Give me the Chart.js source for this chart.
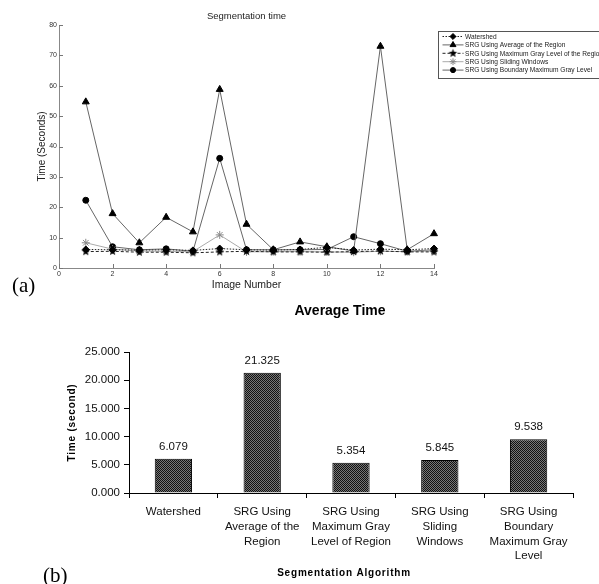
<!DOCTYPE html>
<html><head><meta charset="utf-8">
<script src="https://cdn.jsdelivr.net/npm/chart.js@4/dist/chart.umd.min.js"></script>
<style>
html,body{margin:0;padding:0;background:#fff;width:599px;height:584px;overflow:hidden;}
#wrapA{position:absolute;left:0;top:0;width:599px;height:300px;}
#wrapB{position:absolute;left:0;top:295px;width:599px;height:289px;}
.lab{position:absolute;font-family:"Liberation Serif","Times New Roman",serif;font-size:21px;color:#000;line-height:1;}
</style></head><body>
<div id="wrapA"><canvas id="a"></canvas></div>
<div id="wrapB"><canvas id="b"></canvas></div>
<div class="lab" style="left:12px;top:275px">(a)</div>
<div class="lab" style="left:43px;top:565px">(b)</div>
<script>
// ---------- data: (a) Segmentation time ----------
const imageNumbers = [1,2,3,4,5,6,7,8,9,10,11,12,13,14];
const seriesNames = [
  "Watershed",
  "SRG Using Average of the Region",
  "SRG Using Maximum Gray Level of the Region",
  "SRG Using Sliding Windows",
  "SRG Using Boundary Maximum Gray Level"
];
const watershed   = [6.1,6.0,5.9,6.0,5.8,6.4,6.0,5.9,6.1,6.8,5.9,6.2,6.0,6.4];
const srgAverage  = [54.7,17.9,8.3,16.7,11.9,58.8,14.4,6.0,8.6,7.0,5.6,73.0,6.0,11.3];
const srgMaxGray  = [5.4,5.5,5.2,5.2,5.0,5.3,5.5,5.3,5.3,5.2,5.4,5.6,5.3,5.3];
const srgSliding  = [8.3,6.2,5.6,5.5,5.4,10.9,5.3,5.4,5.4,5.3,5.2,5.5,5.4,5.6];
const srgBoundary = [22.3,7.0,6.0,6.3,5.5,36.1,6.0,6.0,6.0,6.1,10.3,8.0,5.5,6.0];
const xTickStep = 2, xMax = 14, yTickStep = 10, yMax = 80;

// ---------- data: (b) Average Time ----------
const algorithms = [
  ["Watershed"],
  ["SRG Using","Average of the","Region"],
  ["SRG Using","Maximum Gray","Level of Region"],
  ["SRG Using","Sliding","Windows"],
  ["SRG Using","Boundary","Maximum Gray","Level"]
];
const averageTimes = [6.079, 21.325, 5.354, 5.845, 9.538];
const barYMax = 25, barYStep = 5;

const SANS = '"Liberation Sans", Arial, sans-serif';

// five-point star marker
function starCanvas(r, color){
  const c = document.createElement('canvas');
  const s = Math.ceil(r*2+2); c.width = s; c.height = s;
  const g = c.getContext('2d'); g.fillStyle = color; g.beginPath();
  for(let i=0;i<10;i++){
    const ang = -Math.PI/2 + i*Math.PI/5;
    const rr = i%2===0 ? r : r*0.42;
    const x = s/2 + rr*Math.cos(ang), y = s/2 + rr*Math.sin(ang);
    i===0 ? g.moveTo(x,y) : g.lineTo(x,y);
  }
  g.closePath(); g.fill();
  return c;
}
const starImg = starCanvas(4.5,'#000');

const pts = arr => imageNumbers.map((n,i)=>({x:n,y:arr[i]}));

const topDecor = {
  id:'topDecor',
  afterDraw(chart){
    const {ctx, chartArea:ca, scales} = chart;
    ctx.save();
    ctx.fillStyle='#222'; ctx.textAlign='center'; ctx.textBaseline='middle';
    ctx.font='9.5px '+SANS;
    ctx.fillText('Segmentation time',(ca.left+ca.right)/2,16);
    ctx.font='10.5px '+SANS;
    ctx.fillText('Image Number',(ca.left+ca.right)/2,285);
    ctx.save(); ctx.translate(42,(ca.top+ca.bottom)/2); ctx.rotate(-Math.PI/2);
    ctx.font='10px '+SANS; ctx.fillText('Time (Seconds)',0,0); ctx.restore();
    // inward ticks
    ctx.strokeStyle='#777'; ctx.lineWidth=1;
    scales.x.ticks.forEach(t=>{const px=Math.round(scales.x.getPixelForValue(t.value))+0.5;
      ctx.beginPath(); ctx.moveTo(px,ca.bottom); ctx.lineTo(px,ca.bottom-4); ctx.stroke();});
    scales.y.ticks.forEach(t=>{const py=Math.round(scales.y.getPixelForValue(t.value))+0.5;
      ctx.beginPath(); ctx.moveTo(ca.left,py); ctx.lineTo(ca.left+4,py); ctx.stroke();});
    // legend box
    const lx=438.5, ly=31.5, lw=170, lh=47;
    ctx.fillStyle='#fff'; ctx.fillRect(lx,ly,lw,lh);
    ctx.strokeStyle='#555'; ctx.strokeRect(lx,ly,lw,lh);
    ctx.font='6.6px '+SANS; ctx.textAlign='left';
    chart.data.datasets.forEach((ds,i)=>{
      const y = ly+5+i*8.4;
      ctx.save(); ctx.strokeStyle=ds.borderColor; ctx.lineWidth=1; ctx.setLineDash(ds.borderDash||[]);
      ctx.beginPath(); ctx.moveTo(lx+4,y); ctx.lineTo(lx+25,y); ctx.stroke(); ctx.restore();
      ctx.save(); ctx.fillStyle=ds.pointBackgroundColor; ctx.strokeStyle=ds.pointBorderColor;
      if (Chart.helpers && Chart.helpers.drawPoint) {
        Chart.helpers.drawPoint(ctx,{pointStyle:ds.pointStyle, radius:(ds.pointRadius||3)*0.85, rotation:0, borderWidth:1}, lx+14.5, y);
      }
      ctx.restore();
      ctx.fillStyle='#222'; ctx.fillText(ds.label, lx+26.5, y+0.5);
    });
    ctx.restore();
  }
};

new Chart(document.getElementById('a'), {
  type:'line',
  data:{ datasets:[
    {label:seriesNames[0], data:pts(watershed), borderColor:'#222', borderWidth:1, borderDash:[1.5,1.5],
     pointStyle:'rectRot', pointRadius:3.5, pointBackgroundColor:'#000', pointBorderColor:'#000', clip:false},
    {label:seriesNames[1], data:pts(srgAverage), borderColor:'#666', borderWidth:1,
     pointStyle:'triangle', pointRadius:4, pointBackgroundColor:'#000', pointBorderColor:'#000', clip:false},
    {label:seriesNames[2], data:pts(srgMaxGray), borderColor:'#222', borderWidth:1, borderDash:[3,2],
     pointStyle:starImg, pointRadius:4, pointBackgroundColor:'#000', pointBorderColor:'#000', clip:false},
    {label:seriesNames[3], data:pts(srgSliding), borderColor:'#aaa', borderWidth:1,
     pointStyle:'star', pointRadius:4, pointBackgroundColor:'#888', pointBorderColor:'#888', clip:false},
    {label:seriesNames[4], data:pts(srgBoundary), borderColor:'#666', borderWidth:1,
     pointStyle:'circle', pointRadius:3, pointBackgroundColor:'#000', pointBorderColor:'#000', clip:false}
  ]},
  options:{
    responsive:true, maintainAspectRatio:false, animation:false,
    layout:{padding:{left:0,right:165,top:25,bottom:0}},
    plugins:{legend:{display:false}, tooltip:{enabled:false}},
    elements:{line:{tension:0}},
    scales:{
      x:{type:'linear', min:0, max:xMax,
         ticks:{stepSize:xTickStep, color:'#333', font:{family:SANS,size:7}, padding:2},
         grid:{display:true, drawOnChartArea:false, drawTicks:false},
         border:{color:'#888'},
         afterFit:s=>{s.height=32;}},
      y:{min:0, max:yMax,
         ticks:{stepSize:yTickStep, color:'#333', font:{family:SANS,size:7}, padding:2},
         grid:{display:true, drawOnChartArea:false, drawTicks:false},
         border:{color:'#888'},
         afterFit:s=>{s.width=59;}}
    }
  },
  plugins:[topDecor]
});

// ---------- (b) ----------
function makePattern(){
  const c=document.createElement('canvas'); c.width=2; c.height=2;
  const g=c.getContext('2d');
  g.fillStyle='#111'; g.fillRect(0,0,2,2);
  g.fillStyle='#777'; g.fillRect(0,0,1,1); g.fillRect(1,1,1,1);
  return g.createPattern(c,'repeat');
}
const bottomDecor = {
  id:'bottomDecor',
  afterDraw(chart){
    const {ctx, chartArea:ca} = chart;
    ctx.save();
    ctx.fillStyle='#000'; ctx.textAlign='center'; ctx.textBaseline='middle';
    ctx.font='bold 14px '+SANS;
    ctx.fillText('Average Time',340,16);
    ctx.font='11.5px '+SANS; ctx.fillStyle='#111';
    const meta=chart.getDatasetMeta(0);
    meta.data.forEach((bar,i)=>{
      ctx.fillText(averageTimes[i].toFixed(3), bar.x, bar.y-12);
    });
    ctx.fillStyle='#000';
    ctx.font='bold 10px '+SANS;
    if ('letterSpacing' in ctx) ctx.letterSpacing='0.8px';
    ctx.fillText('Segmentation Algorithm',(ca.left+ca.right)/2-7,278);
    ctx.save(); ctx.translate(72,(ca.top+ca.bottom)/2); ctx.rotate(-Math.PI/2);
    ctx.fillText('Time (second)',0,0); ctx.restore();
    ctx.restore();
  }
};

new Chart(document.getElementById('b'), {
  type:'bar',
  data:{ labels:algorithms, datasets:[{
    label:'Average Time', data:averageTimes,
    backgroundColor:makePattern(), borderColor:'#000', borderWidth:1,
    categoryPercentage:1.0, barPercentage:0.42
  }]},
  options:{
    responsive:true, maintainAspectRatio:false, animation:false,
    layout:{padding:{left:0,right:26,top:57,bottom:0}},
    plugins:{legend:{display:false}, tooltip:{enabled:false}},
    scales:{
      x:{ticks:{color:'#111', font:{family:SANS,size:11.5,lineHeight:1.3}, padding:6, maxRotation:0, autoSkip:false},
         grid:{offset:true, drawOnChartArea:false, tickLength:5, color:'#000'},
         border:{color:'#000'},
         afterFit:s=>{s.height=91;}},
      y:{min:0, max:barYMax,
         ticks:{stepSize:barYStep, color:'#111', font:{family:SANS,size:11.5}, padding:4,
                callback:v=>Number(v).toFixed(3)},
         grid:{drawOnChartArea:false, tickLength:5, color:'#000'},
         border:{color:'#000'},
         afterFit:s=>{s.width=129;}}
    }
  },
  plugins:[bottomDecor]
});
</script>
</body></html>
